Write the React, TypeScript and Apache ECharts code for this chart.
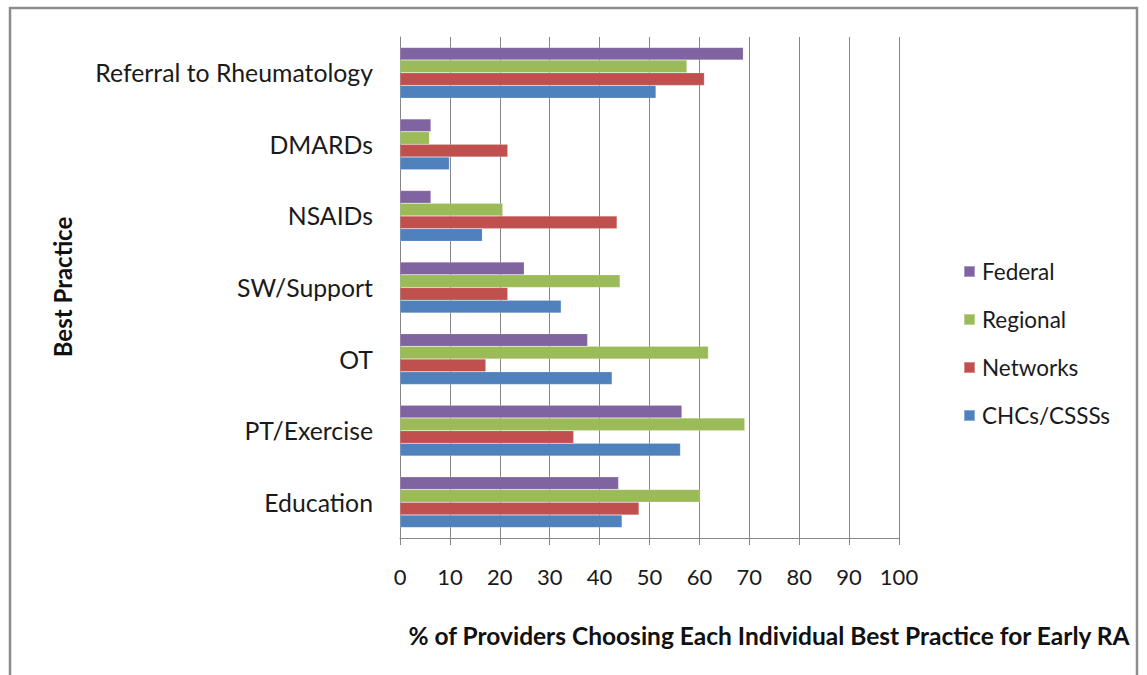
import React, { useEffect, useRef } from "react";
import * as echarts from "echarts";

const categories = [
  "Education",
  "PT/Exercise",
  "OT",
  "SW/Support",
  "NSAIDs",
  "DMARDs",
  "Referral to Rheumatology",
];
const chcs = [44.5, 56.2, 42.5, 32.3, 16.5, 9.9, 51.3];
const networks = [47.9, 34.8, 17.2, 21.6, 43.5, 21.6, 61.0];
const regional = [60.2, 69.1, 61.8, 44.1, 20.6, 5.9, 57.5];
const federal = [43.8, 56.5, 37.6, 24.9, 6.2, 6.2, 68.8];
const legendOrder = ["Federal", "Regional", "Networks", "CHCs/CSSSs"];

const FONT = "Lato, 'Open Sans', sans-serif";

export default function App() {
  const ref = useRef<HTMLDivElement>(null);
  useEffect(() => {
    if (!ref.current) return;
    const chart = echarts.init(ref.current, undefined, { renderer: "svg" });
    const mk = (name: string, data: number[], color: string) => ({
      name,
      type: "bar",
      data,
      barGap: "0%",
      barCategoryGap: "29%",
      itemStyle: { color, borderColor: "rgba(255,255,255,0.35)", borderWidth: 0.5 },
    });
    chart.setOption({
      animation: false,
      backgroundColor: "#ffffff",
      textStyle: { fontFamily: FONT },
      grid: { left: 400, right: 248, top: 37, bottom: 137, containLabel: false },
      legend: {
        orient: "vertical",
        left: 958,
        top: 255,
        itemWidth: 11,
        itemHeight: 11,
        itemGap: 25,
        icon: "rect",
        data: legendOrder,
        textStyle: { fontSize: 22.5, color: "#1a1a1a", fontFamily: FONT, padding: [0, 0, 0, 2] },
      },
      xAxis: {
        type: "value",
        min: 0,
        max: 100,
        interval: 10,
        axisLine: { show: true, lineStyle: { color: "#868686", width: 1 } },
        axisTick: { show: true, length: 7, lineStyle: { color: "#868686" } },
        axisLabel: { fontSize: 22, color: "#1a1a1a", margin: 27, fontFamily: FONT },
        splitLine: { show: true, lineStyle: { color: "#868686", width: 1 } },
      },
      yAxis: {
        type: "category",
        data: categories,
        axisLine: { show: true, lineStyle: { color: "#868686", width: 1 } },
        axisTick: { show: false },
        axisLabel: { fontSize: 24.8, color: "#1a1a1a", margin: 27, fontFamily: FONT },
        splitLine: { show: false },
      },
      series: [
        mk("Federal", federal, "#8064A2"),
        mk("Regional", regional, "#9BBB59"),
        mk("Networks", networks, "#C0504D"),
        mk("CHCs/CSSSs", chcs, "#4F81BD"),
      ],
      graphic: [
        {
          type: "rect",
          shape: { x: 10, y: 8, width: 1127, height: 700 },
          style: { fill: "none", stroke: "#8c8c8c", lineWidth: 2.5 },
          silent: true,
        },
        {
          type: "text",
          x: 62,
          y: 287,
          rotation: Math.PI / 2,
          style: {
            text: "Best Practice",
            fontSize: 24,
            fontWeight: "bold",
            fontFamily: FONT,
            fill: "#111",
            align: "center",
            verticalAlign: "middle",
          },
        },
        {
          type: "text",
          x: 769,
          y: 635,
          style: {
            text: "% of Providers Choosing Each Individual Best Practice for Early RA",
            fontSize: 24.5,
            fontWeight: "bold",
            fontFamily: FONT,
            fill: "#111",
            align: "center",
            verticalAlign: "middle",
          },
        },
      ],
    });
    return () => chart.dispose();
  }, []);
  return (
    <div
      ref={ref}
      style={{ position: "absolute", left: 0, top: 0, width: 1147, height: 675 }}
    />
  );
}
